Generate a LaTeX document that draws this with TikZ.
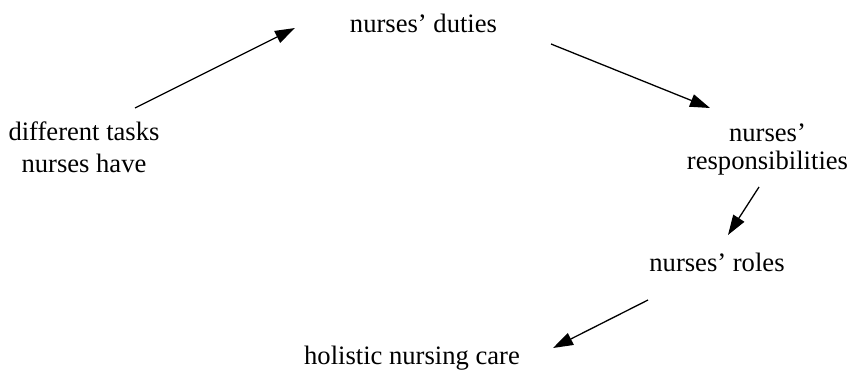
\documentclass[tikz,border=0pt]{standalone}
\usepackage{fontspec}
\setmainfont{Liberation Serif}
\usetikzlibrary{arrows.meta}
\begin{document}
\begin{tikzpicture}[x=1pt,y=-1pt,
  lbl/.style={inner sep=0pt,align=center,font=\fontsize{26.6}{30}\selectfont,anchor=base},
  arr/.style={line width=1.3pt,-{Triangle[length=20pt,width=13pt]}}]
\useasboundingbox (0,0) rectangle (856,371);
\node[lbl] (duties) at (423.5,33) {nurses’ duties};
\node[lbl,font=\fontsize{26.6}{32}\selectfont] (tasks) at (84,172.5) {different tasks\\nurses have};
\node[lbl,font=\fontsize{26.6}{28.5}\selectfont] (resp) at (767.5,170) {nurses’\\responsibilities};
\node[lbl] (roles) at (717,272) {nurses’ roles};
\node[lbl] (care) at (412,364) {holistic nursing care};
\coordinate (t1) at (135,108);  \coordinate (h1) at (295,28);
\coordinate (t2) at (551,44);   \coordinate (h2) at (710,108);
\coordinate (t3) at (759,187);  \coordinate (h3) at (728,235);
\coordinate (t4) at (648,300);  \coordinate (h4) at (553,348);
\draw[arr] (t1) -- (h1);
\draw[arr] (t2) -- (h2);
\draw[arr] (t3) -- (h3);
\draw[arr] (t4) -- (h4);
\end{tikzpicture}
\end{document}
